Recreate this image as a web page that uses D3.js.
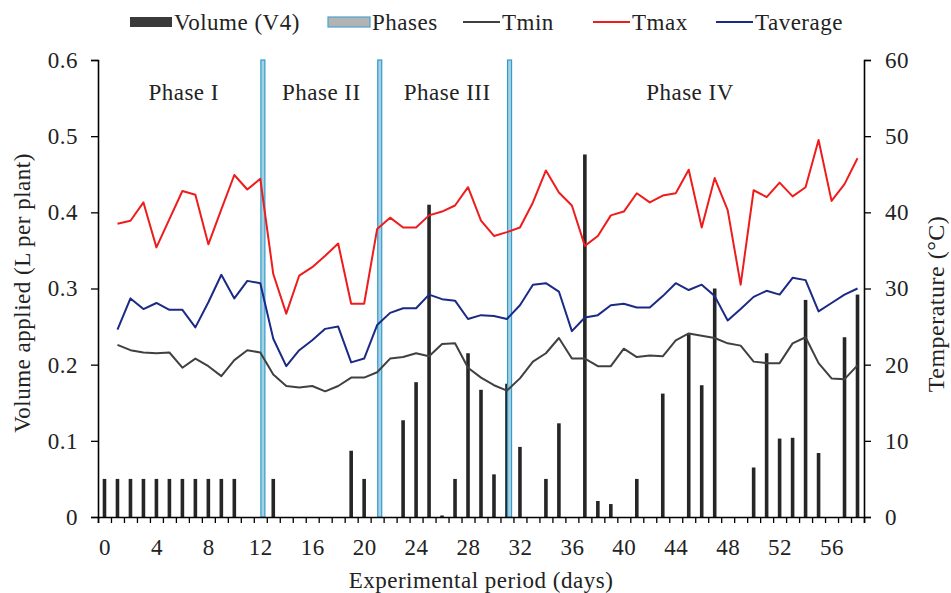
<!DOCTYPE html>
<html><head><meta charset="utf-8">
<script src="https://cdn.jsdelivr.net/npm/d3@7"></script>
<style>
body{margin:0;background:#fff;}
svg text{font-family:"Liberation Serif","Times New Roman",serif !important;fill:#222;letter-spacing:0.5px;}
</style></head>
<body><svg id="c" width="951" height="593"></svg>
<script>
const days = d3.range(0, 59);
const volume = [0.05,0.05,0.05,0.05,0.05,0.05,0.05,0.05,0.05,0.05,0.05,0,0,0.05,0,0,0,0,0,0.087,
  0.05,0,0,0.127,0.177,0.41,0.002,0.05,0.215,0.167,0.056,0.175,0.092,0,0.05,0.123,0,0.476,0.021,0.017,
  0,0.05,0,0.162,0,0.24,0.173,0.3,0,0,0.065,0.215,0.103,0.104,0.285,0.084,0,0.236,0.292];
const phaseDays = [12, 21, 31];
const phaseValue = 0.6;
const phaseLabels = ["Phase I","Phase II","Phase III","Phase IV"];
const phaseLabelDays = [6.1, 16.7, 26.4, 45.1];
const tempDays = d3.range(1, 59);
const tmax = [38.5,38.9,41.3,35.4,39.1,42.8,42.3,35.8,40.4,44.9,43.0,44.4,31.9,26.7,31.7,32.8,34.3,35.9,28.0,28.0,
  37.8,39.3,38.0,38.0,39.6,40.1,40.9,43.3,38.9,36.9,37.4,38.0,41.3,45.5,42.6,40.9,35.6,36.9,39.6,40.1,
  42.5,41.3,42.2,42.5,45.6,38.0,44.5,40.3,30.5,42.9,42.0,43.9,42.1,43.3,49.5,41.5,43.7,47.1];
const taverage = [24.6,28.7,27.3,28.1,27.2,27.2,24.9,28.2,31.8,28.7,31.0,30.7,23.4,19.8,21.9,23.2,24.7,25.0,20.3,20.8,
  25.2,26.8,27.4,27.4,29.2,28.6,28.4,26.0,26.5,26.4,26.0,27.8,30.5,30.7,29.6,24.4,26.2,26.5,27.8,28.0,
  27.5,27.5,29.0,30.7,29.8,30.5,29.0,25.8,27.3,28.9,29.7,29.2,31.4,31.1,27.0,28.1,29.2,30.0];
const tmin = [22.6,21.9,21.6,21.5,21.6,19.6,20.8,19.8,18.5,20.6,21.9,21.6,18.7,17.2,17.0,17.2,16.5,17.2,18.3,18.3,
  19.0,20.8,21.0,21.5,21.1,22.7,22.8,19.6,18.3,17.3,16.6,18.2,20.4,21.5,23.5,20.8,20.8,19.8,19.8,22.1,
  21.0,21.2,21.1,23.2,24.1,23.8,23.5,22.8,22.5,20.4,20.2,20.2,22.8,23.6,20.2,18.2,18.1,19.9];
const volTicks = [0,0.1,0.2,0.3,0.4,0.5,0.6];
const tempTicks = [0,10,20,30,40,50,60];
const xLabelDays = d3.range(0, 57, 4);

const FONT = '"Liberation Serif","Times New Roman",serif';
const fs = "23px";
const svg = d3.select("#c");
const L = 98, R = 864, T = 60, B = 517;
const x = d3.scaleLinear().domain([-0.5, 58.5]).range([L, R]);
const yV = d3.scaleLinear().domain([0, 0.6]).range([B, T]);
const yT = d3.scaleLinear().domain([0, 60]).range([B, T]);

// bars
svg.append("g").selectAll("rect").data(days.filter(d => volume[d] > 0)).join("rect")
  .attr("x", d => x(d) - 1.8).attr("width", 3.6)
  .attr("y", d => yV(volume[d])).attr("height", d => B - yV(volume[d]))
  .attr("fill", "#262626");

// phase bars
svg.append("g").selectAll("rect").data(phaseDays).join("rect")
  .attr("x", d => x(d + 0.2) - 2).attr("width", 4)
  .attr("y", yV(phaseValue)).attr("height", B - yV(phaseValue))
  .attr("fill", "#a9d0e2").attr("stroke", "#2f9ccc").attr("stroke-width", 1.2);

// lines
const line = arr => d3.line().x((v, i) => x(tempDays[i])).y(v => yT(v))(arr);
[[tmin, "#404040"], [tmax, "#ee1c1c"], [taverage, "#1a2a85"]].forEach(([arr, c]) => {
  svg.append("path").attr("d", line(arr)).attr("fill", "none").attr("stroke", c)
    .attr("stroke-width", 2).attr("stroke-linejoin", "round");
});

// axes
const xb = svg.append("g").attr("transform", `translate(0,${B})`)
  .call(d3.axisBottom(x).tickValues(d3.range(-0.5, 59, 1)).tickSize(6).tickFormat(""));
xb.select(".domain").attr("stroke", "#000").attr("stroke-width", 1.6);
xb.selectAll(".tick line").attr("stroke", "#000").attr("stroke-width", 1.3);
const xl = svg.append("g").attr("transform", `translate(0,${B})`)
  .call(d3.axisBottom(x).tickValues(xLabelDays).tickSize(0).tickPadding(22).tickFormat(d3.format("d")));
xl.select(".domain").remove();

const yl = svg.append("g").attr("transform", `translate(${L},0)`)
  .call(d3.axisLeft(yV).tickValues(volTicks).tickSize(7).tickPadding(13).tickFormat(d => d === 0 ? "0" : d3.format(".1f")(d)));
yl.select(".domain").attr("stroke", "#000").attr("stroke-width", 1.6);
yl.selectAll(".tick line").attr("stroke", "#000").attr("stroke-width", 1.3);

const yr = svg.append("g").attr("transform", `translate(${R},0)`)
  .call(d3.axisRight(yT).tickValues(tempTicks).tickSize(7).tickPadding(14).tickFormat(d3.format("d")));
yr.select(".domain").attr("stroke", "#000").attr("stroke-width", 1.6);
yr.selectAll(".tick line").attr("stroke", "#000").attr("stroke-width", 1.3);

[xl, yl, yr].forEach(g => g.attr("font-family", FONT).attr("font-size", 23)
  .selectAll("text").style("font-size", fs).style("font-family", FONT).attr("fill", "#222"));

// phase labels
svg.append("g").selectAll("text").data(phaseLabels).join("text")
  .attr("x", (d, i) => x(phaseLabelDays[i])).attr("y", 100).attr("text-anchor", "middle")
  .style("font-size", fs).text(d => d);

// axis titles
svg.append("text").attr("x", 481).attr("y", 588).attr("text-anchor", "middle")
  .style("font-size", fs).text("Experimental period (days)");
svg.append("text").attr("transform", "translate(30,293) rotate(-90)").attr("text-anchor", "middle")
  .style("font-size", fs).text("Volume applied (L per plant)");
svg.append("text").attr("transform", "translate(944,304) rotate(-90)").attr("text-anchor", "middle")
  .style("font-size", "24px").text("Temperature (°C)");

// legend
const lg = svg.append("g").attr("transform", "translate(0,22)");
lg.append("rect").attr("x", 130).attr("y", -5).attr("width", 42).attr("height", 10).attr("fill", "#3a3a3a");
lg.append("text").attr("x", 174).attr("y", 7.5).style("font-size", fs).text("Volume (V4)");
lg.append("rect").attr("x", 328).attr("y", -5).attr("width", 42).attr("height", 10)
  .attr("fill", "#b3b3b3").attr("stroke", "#4aa3d0").attr("stroke-width", 1.2);
lg.append("text").attr("x", 372).attr("y", 7.5).style("font-size", fs).text("Phases");
[[463, "#404040", "Tmin"], [593, "#ee1c1c", "Tmax"], [716, "#1a2a85", "Taverage"]].forEach(([lx, c, t]) => {
  lg.append("line").attr("x1", lx).attr("x2", lx + 37).attr("y1", 0).attr("y2", 0)
    .attr("stroke", c).attr("stroke-width", 2);
  lg.append("text").attr("x", lx + 39).attr("y", 7.5).style("font-size", fs).text(t);
});
</script></body></html>
